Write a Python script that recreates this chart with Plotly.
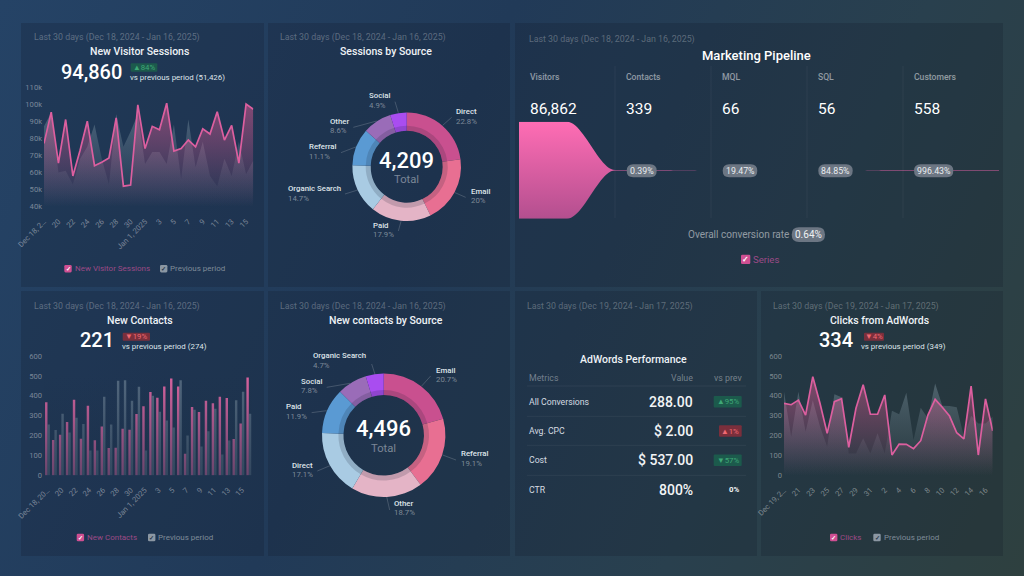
import plotly.graph_objects as go

# ---------- data ----------
dates_a = ["Dec 18","Dec 19","Dec 20","Dec 21","Dec 22","Dec 23","Dec 24","Dec 25","Dec 26","Dec 27","Dec 28","Dec 29","Dec 30","Dec 31",
           "Jan 1","Jan 2","Jan 3","Jan 4","Jan 5","Jan 6","Jan 7","Jan 8","Jan 9","Jan 10","Jan 11","Jan 12","Jan 13","Jan 14","Jan 15","Jan 16"]
dates_b = ["Dec 19","Dec 20","Dec 21","Dec 22","Dec 23","Dec 24","Dec 25","Dec 26","Dec 27","Dec 28","Dec 29","Dec 30","Dec 31","Jan 1",
           "Jan 2","Jan 3","Jan 4","Jan 5","Jan 6","Jan 7","Jan 8","Jan 9","Jan 10","Jan 11","Jan 12","Jan 13","Jan 14","Jan 15","Jan 16","Jan 17"]
ticks_sessions = ["Dec 18, 2…","20","22","24","26","28","30","Jan 1, 2025","3","5","7","9","11","13","15"]
ticks_contacts = ["Dec 18, 20…","20","22","24","26","28","30","Jan 1, 2025","3","5","7","9","11","13","15"]
ticks_clicks = ["Dec 19, 2…","21","23","25","27","29","31","2","4","6","8","10","12","14","16"]

sessions_now = [77000,95300,65500,91000,58000,73000,90000,64000,66000,68500,92000,52000,52700,99500,74000,87000,85000,100500,72500,74000,79000,75000,85500,82500,95500,79000,87500,65500,100000,97000]
sessions_prev = [87000,95000,60000,61000,53000,68000,75000,88000,68000,53000,94000,75000,84000,94000,65000,72000,72000,65000,88000,56000,91000,63000,78000,58000,52000,68000,58000,78000,59000,67000]
contacts_now = [367,178,204,268,380,184,350,176,246,137,139,234,229,308,347,419,390,446,487,447,109,343,318,375,362,395,389,183,260,492]
contacts_prev = [255,228,310,215,290,258,125,125,395,255,475,478,375,445,125,400,320,275,240,478,200,330,145,222,335,105,175,378,420,310]
clicks_now = [362,355,378,303,496,362,211,370,385,141,337,456,307,307,404,102,157,156,134,174,303,382,342,298,214,183,449,102,384,224]
clicks_prev = [420,194,420,219,378,245,144,407,392,110,110,186,110,211,110,325,307,415,178,340,286,462,350,348,342,194,300,261,261,295]

source_names_a = ["Direct","Email","Paid","Organic Search","Referral","Other","Social"]
source_vals_a = [22.8,20,17.9,14.7,11.1,8.6,4.9]
source_names_b = ["Email","Referral","Other","Direct","Paid","Social","Organic Search"]
source_vals_b = [20.7,19.1,18.7,17.1,11.9,7.8,4.7]
ring_colors = ["#c9508f","#e86f92","#e4b4c6","#a9cbe3","#5a9ad3","#9a6cb8","#a94df0"]

stages = ["Visitors","Contacts","MQL","SQL","Customers"]
stage_vals = [86862,339,66,56,558]
stage_rates = ["0.39%","19.47%","84.85%","996.43%"]

metrics = ["All Conversions","Avg. CPC","Cost","CTR"]
metric_vals = ["288.00","$ 2.00","$ 537.00","800%"]
metric_deltas = ["▲95%","▲1%","▼57%","0%"]

# ---------- pixel helpers ----------
W, H = 1024, 576
fx = lambda p: p / W
fy = lambda p: 1 - p / H
FONT = "Roboto, sans-serif"
PINK = "#dc5f9f"
annotations, shapes = [], []

def txt(x, y, s, size=9, color="#ffffff", anchor="left", weight=400):
    annotations.append(dict(x=fx(x), y=fy(y), xref="paper", yref="paper", text=s, showarrow=False,
                            xanchor=anchor, yanchor="middle", borderpad=0, borderwidth=0,
                            font=dict(family=FONT, size=size, color=color, weight=weight)))

def rrect(x0, y0, x1, y1, r, fill):
    a, b, c, d = fx(x0), fy(y0), fx(x1), fy(y1)
    rx, ry = r / W, r / H
    p = (f"M {a+rx} {b} L {c-rx} {b} Q {c} {b} {c} {b-ry} L {c} {d+ry} Q {c} {d} {c-rx} {d} "
         f"L {a+rx} {d} Q {a} {d} {a} {d+ry} L {a} {b-ry} Q {a} {b} {a+rx} {b} Z")
    shapes.append(dict(type="path", path=p, xref="paper", yref="paper", fillcolor=fill,
                       line=dict(width=0), layer="above"))

def line(x0, y0, x1, y1, color="rgba(255,255,255,0.22)", width=0.8):
    shapes.append(dict(type="line", x0=fx(x0), x1=fx(x1), y0=fy(y0), y1=fy(y1), xref="paper", yref="paper",
                       line=dict(color=color, width=width), layer="above"))

def panel(x0, y0, x1, y1):
    shapes.append(dict(type="rect", x0=fx(x0), x1=fx(x1), y0=fy(y0), y1=fy(y1), xref="paper", yref="paper",
                       fillcolor="rgba(15,22,35,0.2)", line=dict(width=0), layer="below"))

def checkbox(x, y, text, box_color, text_color, size=8, box=7.4, check="#ffffff"):
    rrect(x, y - box / 2, x + box, y + box / 2, 1.3, box_color)
    txt(x + box / 2, y, "✓", box - 1, check, "center", 700)
    txt(x + box + 3, y, text, size, text_color)

GREY_BOX, GREY_TXT = "#8b97a3", "#7e8b98"
PINK_BOX, PINK_TXT = "#cf4f92", "#9c4a86"
GREEN_BG, GREEN_TX = "#1c5a4c", "#3fa877"
RED_BG, RED_TX = "#7a2f3c", "#ef6a72"
LAST = "rgba(255,255,255,0.28)"

for box in [(21,23,264,287),(268,23,510,287),(515,23,1003,287),(21,291,264,556),(268,291,510,556),(515,291,757,556),(761,291,1003,556)]:
    panel(*box)

traces, axes = [], {}

def add_axes(n, x0, x1, y0, y1, xr, yr, ticktext=None, tickvals=None, ydtick=None, ytick0=None, yfmt=None, visible=True):
    sfx = "" if n == 1 else str(n)
    axes["xaxis" + sfx] = dict(domain=[fx(x0), fx(x1)], range=xr, anchor="y" + sfx, showgrid=False, zeroline=False,
                               showline=False, ticks="", visible=visible, fixedrange=True,
                               tickmode="array", tickvals=tickvals, ticktext=ticktext, tickangle=-45,
                               ticklabelstandoff=8, automargin=False,
                               tickfont=dict(family=FONT, size=7.6, color="rgba(255,255,255,0.40)"))
    if tickvals is not None:
        axes["xaxis" + sfx]["type"] = "category"
    axes["yaxis" + sfx] = dict(domain=[fy(y1), fy(y0)], range=yr, anchor="x" + sfx, showgrid=False, zeroline=False,
                               showline=False, ticks="", visible=visible, fixedrange=True, tick0=ytick0, dtick=ydtick,
                               tickformat=yfmt, ticklabelstandoff=1, automargin=False,
                               tickfont=dict(family=FONT, size=7.6, color="rgba(255,255,255,0.40)"))

def area(n, x, now, prev, ymin, ymax):
    sfx = "" if n == 1 else str(n)
    traces.append(go.Scatter(x=x, y=prev, mode="none", fill="tozeroy", xaxis="x" + sfx, yaxis="y" + sfx, hoverinfo="skip",
                             fillgradient=dict(type="vertical", start=ymin, stop=ymax,
                                               colorscale=[[0, "rgba(140,160,170,0.0)"], [1, "rgba(140,165,178,0.5)"]])))
    traces.append(go.Scatter(x=x, y=now, mode="lines", fill="tozeroy", xaxis="x" + sfx, yaxis="y" + sfx, hoverinfo="skip",
                             line=dict(color=PINK, width=1.7),
                             fillgradient=dict(type="vertical", start=ymin, stop=ymax,
                                               colorscale=[[0, "rgba(226,92,150,0.0)"], [1, "rgba(226,92,150,0.6)"]])))

# ---------- chart 1: New Visitor Sessions ----------
add_axes(1, 44, 253.3, 87, 206.7, [0, 29], [40000, 110000], ticks_sessions, dates_a[::2], 10000, 40000, "~s")
area(1, dates_a, sessions_now, sessions_prev, 40000, 110000)
txt(33.5, 37, "Last 30 days (Dec 18, 2024 - Jan 16, 2025)", 8.8, LAST)
txt(139.7, 51.7, "New Visitor Sessions", 10.5, "#eef2f6", "center", 500)
txt(60.5, 71.7, "94,860", 20, "#ffffff", "left", 500)
rrect(130.7, 63.3, 157.3, 71.7, 1, GREEN_BG)
txt(144, 67.6, "▲84%", 7.8, GREEN_TX, "center")
txt(130.3, 78, "vs previous period (51,426)", 7.9, "#dfe5ea")
checkbox(64.3, 268.7, "New Visitor Sessions", PINK_BOX, PINK_TXT)
checkbox(160, 268.7, "Previous period", GREY_BOX, GREY_TXT, check="#26364a")

# ---------- chart 4: New Contacts ----------
add_axes(2, 44, 252.3, 356, 475.3, [-0.5, 29.5], [0, 600], ticks_contacts, dates_a[::2], 100, 0)
traces.append(go.Bar(x=dates_a, y=contacts_now, marker=dict(color="#d9639f", line=dict(width=0)), xaxis="x2", yaxis="y2", hoverinfo="skip"))
traces.append(go.Bar(x=dates_a, y=contacts_prev, marker=dict(color="rgba(125,145,162,0.55)", line=dict(width=0)), xaxis="x2", yaxis="y2", hoverinfo="skip"))
# soft fade of the bars toward the baseline, in the panel colour
add_axes(5, 44, 252.3, 356, 475.3, [0, 1], [0, 1], visible=False)
traces.append(go.Scatter(x=[0, 1], y=[1, 1], mode="none", fill="tozeroy", xaxis="x5", yaxis="y5", hoverinfo="skip",
                         fillgradient=dict(type="vertical", start=0, stop=0.85,
                                           colorscale=[[0, "rgba(29,50,75,0.6)"], [1, "rgba(29,50,75,0)"]])))
txt(33.5, 306.3, "Last 30 days (Dec 18, 2024 - Jan 16, 2025)", 8.8, LAST)
txt(139.7, 320.3, "New Contacts", 10.5, "#eef2f6", "center", 500)
txt(79.5, 340, "221", 20, "#ffffff", "left", 500)
rrect(122.7, 332.7, 150, 340.7, 1, RED_BG)
txt(136.3, 336.7, "▼19%", 7.8, RED_TX, "center")
txt(122, 346.7, "vs previous period (274)", 7.9, "#dfe5ea")
checkbox(76.7, 537.5, "New Contacts", PINK_BOX, PINK_TXT)
checkbox(148, 537.5, "Previous period", GREY_BOX, GREY_TXT, check="#26364a")

# ---------- chart 7: Clicks from AdWords ----------
add_axes(3, 784, 992.7, 356, 475.3, [0, 29], [0, 600], ticks_clicks, dates_b[::2], 100, 0)
area(3, dates_b, clicks_now, clicks_prev, 0, 600)
txt(773, 306.3, "Last 30 days (Dec 19, 2024 - Jan 17, 2025)", 8.8, LAST)
txt(879.3, 320.3, "Clicks from AdWords", 10.5, "#eef2f6", "center", 500)
txt(818.8, 340, "334", 20, "#ffffff", "left", 500)
rrect(864, 332.7, 884, 340.7, 1, RED_BG)
txt(874, 336.7, "▼4%", 7.8, RED_TX, "center")
txt(861, 346.7, "vs previous period (349)", 7.9, "#dfe5ea")
checkbox(830, 537.5, "Clicks", PINK_BOX, PINK_TXT)
checkbox(873.3, 537.5, "Previous period", GREY_BOX, GREY_TXT, check="#26364a")

# ---------- donuts ----------
def donut(cx, cy, r, r_in, names, vals, total):
    traces.append(go.Pie(labels=names, values=vals, sort=False, direction="clockwise", rotation=0, hole=r_in / r,
                         domain=dict(x=[fx(cx - r), fx(cx + r)], y=[fy(cy + r), fy(cy - r)]), textinfo="none",
                         marker=dict(colors=ring_colors, line=dict(width=0)), showlegend=False, hoverinfo="skip"))
    rs = r_in + 5
    traces.append(go.Pie(labels=names, values=vals, sort=False, direction="clockwise", rotation=0, hole=r_in / rs,
                         domain=dict(x=[fx(cx - rs), fx(cx + rs)], y=[fy(cy + rs), fy(cy - rs)]), textinfo="none",
                         marker=dict(colors=["rgba(25,30,50,0.17)"] * len(vals), line=dict(width=0)), showlegend=False, hoverinfo="skip"))
    txt(cx, cy - 6.5, total, 22, "#ffffff", "center", 500)
    txt(cx, cy + 13, "Total", 11.2, "rgba(255,255,255,0.42)", "center")

def callout(ox, oy, name, val, lx, ly, x0, y0, x1, y1):
    px = lambda a: ox + a / 3
    py = lambda a: oy + a / 3
    txt(px(lx), py(ly), name, 7.8, "#dfe5ea", "left", 500)
    txt(px(lx), py(ly + 28.5), f"{val}%", 7.8, "rgba(255,255,255,0.42)")
    line(px(x0), py(y0), px(x1), py(y1))

donut(406.7, 166.7, 54.3, 36, source_names_a, source_vals_a, "4,209")
txt(280.3, 37, "Last 30 days (Dec 18, 2024 - Jan 16, 2025)", 8.8, LAST)
txt(386.3, 51.7, "Sessions by Source", 10.5, "#eef2f6", "center", 500)
geo_a = [(572,276,560,292,533,316),(617,513,602,532,570,518),(323,616,400,633,408,604),(70,506,240,522,278,510),
         (132,381,228,398,272,381),(194,304,265,322,335,303),(313,227,390,245,400,278)]
for n, v, g in zip(source_names_a, source_vals_a, geo_a):
    callout(265, 20, n, v, *g)

donut(383.7, 435.3, 61.7, 40.3, source_names_b, source_vals_b, "4,496")
txt(280.3, 306.3, "Last 30 days (Dec 18, 2024 - Jan 16, 2025)", 8.8, LAST)
txt(386.3, 320.3, "New contacts by Source", 10.5, "#eef2f6", "center", 500)
geo_b = [(512,241,497,258,470,288),(587,491,573,510,533,495),(388,640,374,660,365,620),(80,525,157,543,195,527),
         (63,350,140,368,185,362),(107,273,185,292,255,280),(145,197,320,222,330,253)]
for n, v, g in zip(source_names_b, source_vals_b, geo_b):
    callout(265, 290, n, v, *g)

# ---------- funnel (connector curve derived from the stage values) ----------
fun_x, fun_top = [], []
for i, v in enumerate(stage_vals):
    fun_x += [i, i + 0.5]
    fun_top += [v, v]
    if i + 1 < len(stage_vals):
        nxt = stage_vals[i + 1]
        for k in range(1, 24):
            t = k / 24
            e = t * t * (3 - 2 * t)
            fun_x.append(i + 0.5 + 0.5 * t)
            fun_top.append(v + (nxt - v) * e)
fun_x += [5]
fun_top += [stage_vals[-1]]
add_axes(4, 519, 999, 121.7, 218.7, [0, 5], [-stage_vals[0], stage_vals[0]], visible=False)
traces.append(go.Scatter(x=fun_x + fun_x[::-1], y=fun_top + [-v for v in fun_top[::-1]], mode="none", fill="toself",
                         xaxis="x4", yaxis="y4", hoverinfo="skip",
                         fillgradient=dict(type="vertical", start=-stage_vals[0], stop=stage_vals[0],
                                           colorscale=[[0, "#b34f8f"], [1, "#ff6db4"]])))
txt(529, 39.5, "Last 30 days (Dec 18, 2024 - Jan 16, 2025)", 8.8, LAST)
txt(756, 56, "Marketing Pipeline", 13, "#ffffff", "center", 500)
for i, (s, v) in enumerate(zip(stages, stage_vals)):
    x = 530.3 + 96 * i
    txt(x, 76.5, s, 8.6, "rgba(255,255,255,0.5)", "left", 500)
    txt(x, 108.5, f"{v:,}", 15.5, "#ffffff")
    if i:
        line(519 + 96 * i, 66, 519 + 96 * i, 218, "rgba(255,255,255,0.05)", 1)
for (a, b), r in zip([(626.7, 656.7), (722.7, 757.3), (818.3, 852.7), (914, 953.3)], stage_rates):
    rrect(a, 164.3, b, 177.3, 6.5, "#6c7683")
    txt((a + b) / 2, 170.8, r, 8.8, "#e9edf0", "center")
txt(788.5, 234.7, "Overall conversion rate", 10, "rgba(255,255,255,0.5)", "right")
rrect(791.7, 227.3, 825, 242, 7.3, "#6c7683")
txt(808.3, 234.9, "0.64%", 10, "#eef1f3", "center")
checkbox(741, 259.3, "Series", PINK_BOX, PINK_TXT, size=9.6, box=9.3)

# ---------- table ----------
txt(526.7, 306.3, "Last 30 days (Dec 19, 2024 - Jan 17, 2025)", 8.8, LAST)
txt(633, 359.7, "AdWords Performance", 10.5, "#eef2f6", "center", 500)
txt(529, 377.7, "Metrics", 8.8, "rgba(255,255,255,0.38)")
txt(693, 377.7, "Value", 8.8, "rgba(255,255,255,0.38)", "right")
txt(741.7, 377.7, "vs prev", 8.8, "rgba(255,255,255,0.38)", "right")
for y in [386, 416.3, 445.3, 475.3]:
    line(527, y, 746, y, "rgba(255,255,255,0.07)", 0.8)
row_y = [401.7, 431, 460.2, 489.7]
delta_bg = [(713.7, GREEN_BG, GREEN_TX), (719, RED_BG, RED_TX), (713.7, GREEN_BG, GREEN_TX), None]
for y, m, v, d, b in zip(row_y, metrics, metric_vals, metric_deltas, delta_bg):
    txt(529, y, m, 8.7, "#d5dbe1")
    txt(693, y, v, 14, "#f2f4f6", "right", 500)
    if b:
        rrect(b[0], y - 5.7, 741.7, y + 5.7, 1, b[1])
        txt((b[0] + 741.7) / 2, y, d, 7.8, b[2], "center")
    else:
        txt(739, y, d, 7.8, "#f2f4f6", "right", 700)

fig = go.Figure(traces)
fig.update_layout(width=W, height=H, autosize=False, margin=dict(l=0, r=0, t=0, b=0, pad=0),
                  paper_bgcolor="rgba(0,0,0,0)", plot_bgcolor="rgba(0,0,0,0)", showlegend=False,
                  barmode="group", bargap=0.3, bargroupgap=0, font=dict(family=FONT),
                  annotations=annotations, shapes=shapes, **axes)

page_style = ("document.documentElement.style.background='#213a58';"
              "document.body.style.margin='0';document.body.style.overflow='hidden';"
              "document.body.style.background='linear-gradient(115deg,#254366 0%,#213a58 40%,#29404e 72%,#2e403f 100%)';")
fig.write_html("out.html", config={"displayModeBar": False, "responsive": False}, post_script=page_style)
